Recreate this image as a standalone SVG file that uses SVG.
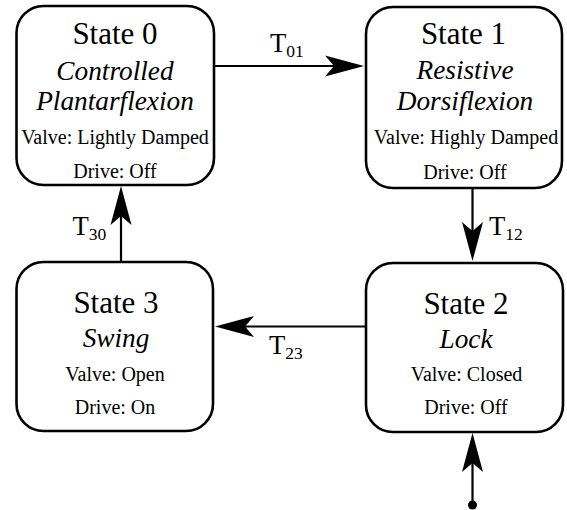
<svg xmlns="http://www.w3.org/2000/svg" width="567" height="510" viewBox="0 0 567 510">
<style>
.box{fill:#fff;stroke:#000;stroke-width:2.6}
text{fill:#000;text-anchor:middle;font-family:"Liberation Serif","Times New Roman",serif}
.title{font-size:31px}
.it{font-size:27.3px;font-style:italic}
.small{font-size:20px}
.lbl{font-size:26.7px;text-anchor:start}
.sub{font-size:17.5px}
.conn{stroke:#000;stroke-width:2.2;fill:none}
</style>
<defs>
<marker id="ah" markerUnits="userSpaceOnUse" orient="auto" refX="0" refY="0" markerWidth="60" markerHeight="30" overflow="visible">
<path d="M30,0 L-9,-10.5 L0,0 L-9,10.5 Z" fill="#000"/>
</marker>
</defs>
<g id="connectors">
<line class="conn" x1="214" y1="66" x2="334" y2="66" marker-end="url(#ah)"/>
<line class="conn" x1="472.5" y1="188" x2="472.5" y2="231" marker-end="url(#ah)"/>
<line class="conn" x1="365" y1="326.5" x2="245" y2="326.5" marker-end="url(#ah)"/>
<line class="conn" x1="121" y1="262" x2="121" y2="216" marker-end="url(#ah)"/>
<line class="conn" x1="472.5" y1="505" x2="472.5" y2="463" marker-end="url(#ah)"/>
<circle cx="472.5" cy="505" r="4.5" fill="#000"/>
<text class="lbl" x="270" y="52">T<tspan class="sub" dy="5">01</tspan></text>
<text class="lbl" x="489" y="235">T<tspan class="sub" dy="5">12</tspan></text>
<text class="lbl" x="269" y="353.5">T<tspan class="sub" dy="5.5">23</tspan></text>
<text class="lbl" x="72.5" y="235">T<tspan class="sub" dy="4.5">30</tspan></text>
</g>
<g id="state0">
<rect class="box" x="16.5" y="6" width="197.5" height="179" rx="27"/>
<text class="title" x="115" y="43.5">State 0</text>
<text class="it" x="115" y="80">Controlled</text>
<text class="it" x="115" y="110">Plantarflexion</text>
<text class="small" x="115" y="144">Valve: Lightly Damped</text>
<text class="small" x="115" y="177.5">Drive: Off</text>
</g>
<g id="state1">
<rect class="box" x="366" y="7" width="196" height="181" rx="27"/>
<text class="title" x="463.5" y="43.5">State 1</text>
<text class="it" x="465" y="79">Resistive</text>
<text class="it" x="465" y="110">Dorsiflexion</text>
<text class="small" x="466" y="144">Valve: Highly Damped</text>
<text class="small" x="465" y="178.5">Drive: Off</text>
</g>
<g id="state2">
<rect class="box" x="366" y="263" width="197" height="169" rx="27"/>
<text class="title" x="466" y="313.5">State 2</text>
<text class="it" x="466" y="348">Lock</text>
<text class="small" x="466.5" y="380.5">Valve: Closed</text>
<text class="small" x="466" y="413.5">Drive: Off</text>
</g>
<g id="state3">
<rect class="box" x="16.5" y="262" width="196.5" height="169" rx="27"/>
<text class="title" x="116" y="312.5">State 3</text>
<text class="it" x="116" y="347">Swing</text>
<text class="small" x="115" y="380.5">Valve: Open</text>
<text class="small" x="115" y="413.5">Drive: On</text>
</g>
</svg>
